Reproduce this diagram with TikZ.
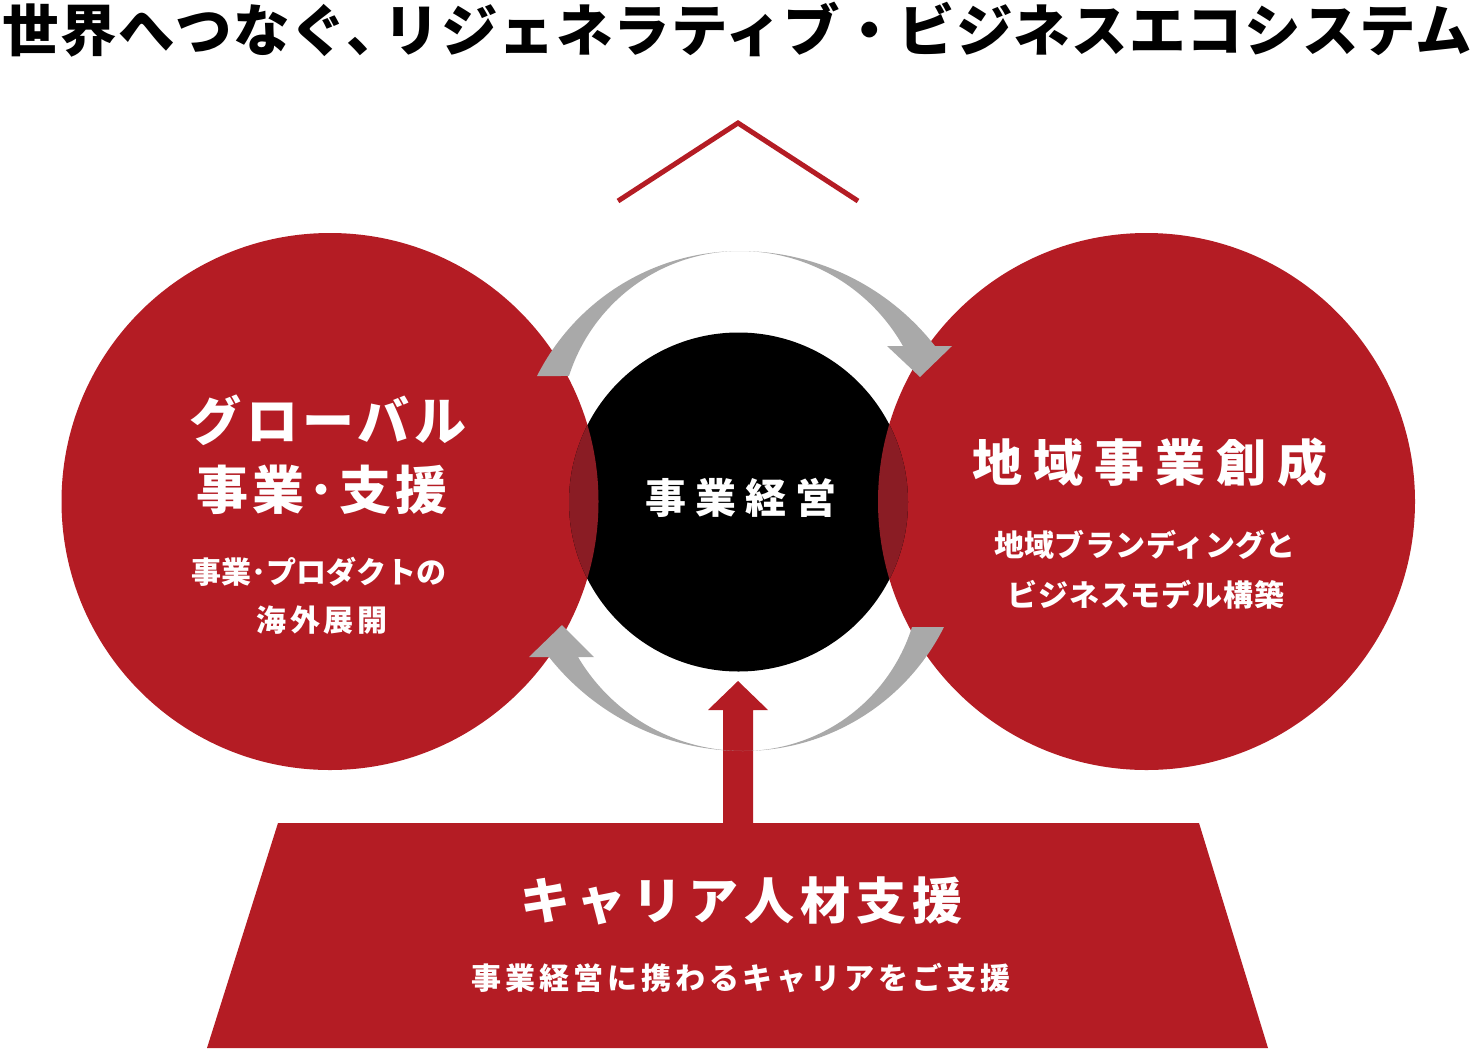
\documentclass[tikz,border=0pt]{standalone}
\usepackage{fontspec}
\setmainfont{Noto Sans CJK JP}
\definecolor{mainred}{HTML}{B41C24}
\definecolor{lensred}{HTML}{8A1C24}
\definecolor{arrowgray}{HTML}{A9A9A9}
\newcommand\jpsize[2]{\bfseries\fontsize{#1}{#1}\selectfont\addfontfeatures{LetterSpace=#2}}
\tikzset{
  bigcircle/.style={circle, fill=mainred, minimum size=537pt, inner sep=0pt},
  txt/.style={text=white, inner sep=0pt, anchor=center},
  graybend/.style={fill=arrowgray},
}
\begin{document}
\begin{tikzpicture}[x=1pt,y=-1pt]
\useasboundingbox (0,0) rectangle (1473,1050);
\fill[white] (0,0) rectangle (1473,1050);

% title
\node[inner sep=0pt, text=black, font=\jpsize{56.5}{2.0}] (title) at (737.5,30) {世界へつなぐ、\kern-20pt リジェネラティブ・ビジネスエコシステム};

% chevron
\coordinate (chL) at (618,201);
\coordinate (chT) at (738,123);
\coordinate (chR) at (858,201);
\draw[mainred, line width=5pt] (chL) -- (chT) -- (chR);

% circles
\node[bigcircle] (left) at (330,501.5) {};
\node[bigcircle] (right) at (1146.5,501.5) {};
\node[circle, fill=black, minimum size=339pt, inner sep=0pt] (core) at (738.5,502) {};
\begin{scope}
  \clip (core.center) circle[radius=169.5pt];
  \fill[lensred] (left.center) circle[radius=268.5pt];
  \fill[lensred] (right.center) circle[radius=268.5pt];
\end{scope}

% trapezoid
\fill[mainred] (278,823) coordinate (trTL) -- (1199,823) coordinate (trTR) -- (1268,1048) coordinate (trBR) -- (207,1048) coordinate (trBL) -- cycle;

% red up arrow
\coordinate (uptip) at (738,681);
\fill[mainred] (uptip) -- (768,710) -- (753,710) -- (753,830) -- (723,830) -- (723,710) -- (708,710) -- cycle;

% gray cycle arrows
\fill[graybend]
  plot[domain=206.7:270, samples=50, variable=\t] ({740+227.3*cos(\t)},{478.3+227.3*sin(\t)})
  -- plot[domain=270:322, samples=50, variable=\t] ({740+247.6*cos(\t)},{498.6+247.6*sin(\t)})
  -- (952,346) -- (920,377) -- (887,346)
  -- plot[domain=330.5:270, samples=50, variable=\t] ({740+187.3*cos(\t)},{438.3+187.3*sin(\t)})
  -- plot[domain=270:197.7, samples=50, variable=\t] ({740+179.5*cos(\t)},{430.5+179.5*sin(\t)})
  -- cycle;
\fill[graybend]
  plot[domain=26.7:90, samples=50, variable=\t] ({743+224.9*cos(\t)},{526.1+224.9*sin(\t)})
  -- plot[domain=90:141.7, samples=50, variable=\t] ({743+247.2*cos(\t)},{503.8+247.2*sin(\t)})
  -- (529,657) -- (562,625) -- (594,657)
  -- plot[domain=149.3:90, samples=50, variable=\t] ({743+191.8*cos(\t)},{559.2+191.8*sin(\t)})
  -- plot[domain=90:17.5, samples=50, variable=\t] ({743+177.2*cos(\t)},{573.8+177.2*sin(\t)})
  -- cycle;

% texts
\node[txt, font=\jpsize{52}{8}] (gl1) at (328,420) {グローバル};
\node[txt, font=\jpsize{52}{8}] (gl2) at (322,490) {事業･支援};
\node[txt, font=\jpsize{30}{0}] (gl3) at (319,572) {事業･プロダクトの};
\node[txt, font=\jpsize{30}{13}] (gl4) at (322,620) {海外展開};

\node[txt, font=\jpsize{50}{22}] (rg1) at (1150,462) {地域事業創成};
\node[txt, font=\jpsize{30}{1.5}] (rg2) at (1145,545) {地域ブランディングと};
\node[txt, font=\jpsize{30}{3}] (rg3) at (1146,595) {ビジネスモデル構築};

\node[txt, font=\jpsize{41}{22}] (ct) at (741,498) {事業経営};

\node[txt, font=\jpsize{50}{12}] (cr1) at (741,901) {キャリア人材支援};
\node[txt, font=\jpsize{30}{13}] (cr2) at (741,978) {事業経営に携わるキャリアをご支援};
\end{tikzpicture}
\end{document}
